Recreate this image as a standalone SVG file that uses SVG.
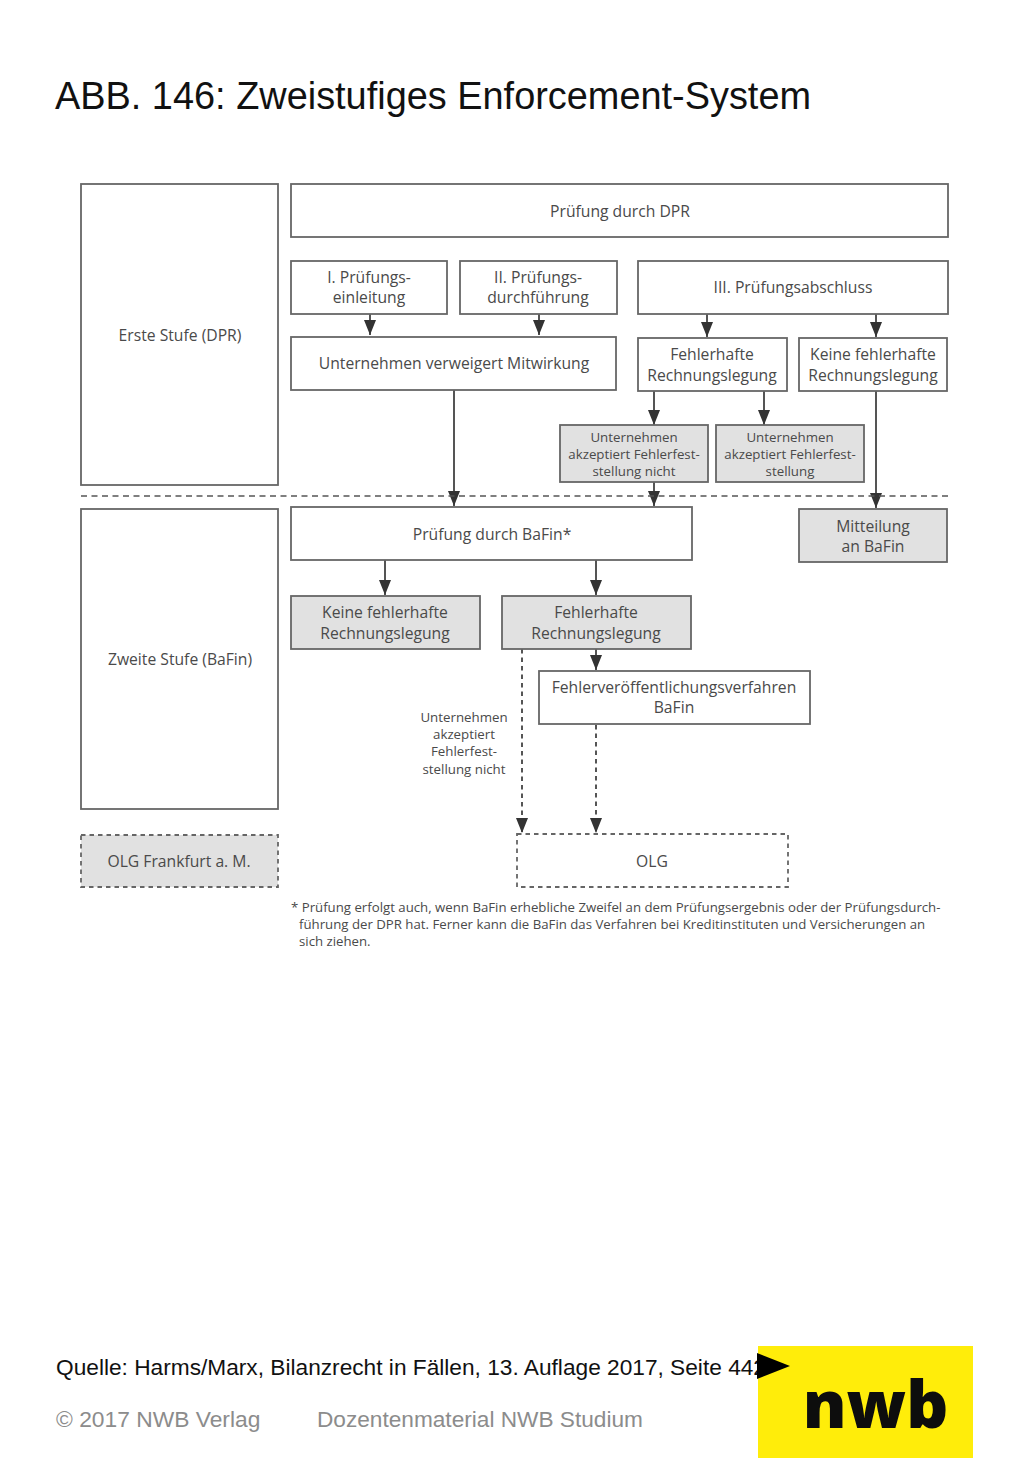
<svg xmlns="http://www.w3.org/2000/svg" width="1024" height="1479" viewBox="0 0 1024 1479">
<defs>
<marker id="ah" markerUnits="userSpaceOnUse" markerWidth="16" markerHeight="13" refX="15" refY="6" orient="auto"><path d="M0,0 L15,6 L0,12 Z" fill="#333"/></marker>
</defs>
<style>
.b{fill:#fff;stroke:#666;stroke-width:1.8}
.g{fill:#e1e1e1;stroke:#666;stroke-width:1.8}
.d{stroke-dasharray:4.5 4}
.t{font-family:"Open Sans","Noto Sans",sans-serif;font-size:15.7px;fill:#4a4a4a;text-anchor:middle}
.s{font-size:13.3px}
.f{font-size:13.22px;text-anchor:start}
.c{fill:none;stroke:#555;stroke-width:2;marker-end:url(#ah)}
.h{font-family:"Liberation Sans",Arial,sans-serif}
</style>
<rect width="1024" height="1479" fill="#fff"/>
<text id="title" class="h" x="55" y="108.5" font-size="37.9" fill="#111">ABB. 146: Zweistufiges Enforcement-System</text>

<g id="connectors">
<path class="c" d="M370,314V335"/>
<path class="c" d="M539,314V335"/>
<path class="c" d="M707,314V337"/>
<path class="c" d="M876,314V337"/>
<path class="c" d="M654,391V425"/>
<path class="c" d="M764,391V425"/>
<path class="c" d="M454,390V506"/>
<path class="c" d="M654,482V506"/>
<path class="c" d="M876,391V508"/>
<path class="c" d="M385,560V595"/>
<path class="c" d="M596,560V595"/>
<path class="c" d="M596,649V670"/>
<path class="c d" d="M522,649V833"/>
<path class="c d" d="M596,725V833"/>
<path id="divider" d="M81,496H951" fill="none" stroke="#555" stroke-width="1.6" stroke-dasharray="6 4.5"/>
</g>

<g id="stufe1"><rect class="b" x="81" y="184" width="197" height="301"/><text class="t" x="180" y="341">Erste Stufe (DPR)</text></g>
<g id="pruefung-dpr"><rect class="b" x="291" y="184" width="657" height="53"/><text class="t" x="620" y="217">Prüfung durch DPR</text></g>
<g id="einleitung"><rect class="b" x="291" y="261" width="156" height="53"/><text class="t" x="369" y="283">I. Prüfungs-</text><text class="t" x="369" y="303">einleitung</text></g>
<g id="durchfuehrung"><rect class="b" x="460" y="261" width="157" height="53"/><text class="t" x="538" y="283">II. Prüfungs-</text><text class="t" x="538" y="303">durchführung</text></g>
<g id="abschluss"><rect class="b" x="638" y="261" width="310" height="53"/><text class="t" x="793" y="293">III. Prüfungsabschluss</text></g>
<g id="verweigert"><rect class="b" x="291" y="337" width="325" height="53"/><text class="t" x="454" y="369">Unternehmen verweigert Mitwirkung</text></g>
<g id="fehlerhaft1"><rect class="b" x="638" y="338" width="149" height="53"/><text class="t" x="712" y="360">Fehlerhafte</text><text class="t" x="712" y="381">Rechnungslegung</text></g>
<g id="keine1"><rect class="b" x="799" y="338" width="148" height="53"/><text class="t" x="873" y="360">Keine fehlerhafte</text><text class="t" x="873" y="381">Rechnungslegung</text></g>
<g id="nicht-akzeptiert"><rect class="g" x="560" y="425" width="148" height="57"/><text class="t s" x="634" y="442">Unternehmen</text><text class="t s" x="634" y="459">akzeptiert Fehlerfest-</text><text class="t s" x="634" y="476">stellung nicht</text></g>
<g id="akzeptiert"><rect class="g" x="716" y="425" width="148" height="57"/><text class="t s" x="790" y="442">Unternehmen</text><text class="t s" x="790" y="459">akzeptiert Fehlerfest-</text><text class="t s" x="790" y="476">stellung</text></g>

<g id="stufe2"><rect class="b" x="81" y="509" width="197" height="300"/><text class="t" x="180" y="665">Zweite Stufe (BaFin)</text></g>
<g id="pruefung-bafin"><rect class="b" x="291" y="507" width="401" height="53"/><text class="t" x="492" y="540">Prüfung durch BaFin*</text></g>
<g id="mitteilung"><rect class="g" x="799" y="509" width="148" height="53"/><text class="t" x="873" y="532">Mitteilung</text><text class="t" x="873" y="552">an BaFin</text></g>
<g id="keine2"><rect class="g" x="291" y="596" width="189" height="53"/><text class="t" x="385" y="618">Keine fehlerhafte</text><text class="t" x="385" y="639">Rechnungslegung</text></g>
<g id="fehlerhaft2"><rect class="g" x="502" y="596" width="189" height="53"/><text class="t" x="596" y="618">Fehlerhafte</text><text class="t" x="596" y="639">Rechnungslegung</text></g>
<g id="veroeffentlichung"><rect class="b" x="539" y="671" width="271" height="53"/><text class="t" x="674" y="693">Fehlerveröffentlichungsverfahren</text><text class="t" x="674" y="713">BaFin</text></g>
<g id="label-nicht"><text class="t s" x="464" y="722">Unternehmen</text><text class="t s" x="464" y="739">akzeptiert</text><text class="t s" x="464" y="756">Fehlerfest-</text><text class="t s" x="464" y="774">stellung nicht</text></g>
<g id="olg-frankfurt"><rect class="g d" x="81" y="835" width="197" height="52"/><text class="t" x="179" y="867">OLG Frankfurt a. M.</text></g>
<g id="olg"><rect class="b d" x="517" y="834" width="271" height="53"/><text class="t" x="652" y="867">OLG</text></g>
<g id="fussnote"><text class="t f" x="291" y="912">* Prüfung erfolgt auch, wenn BaFin erhebliche Zweifel an dem Prüfungsergebnis oder der Prüfungsdurch-</text><text class="t f" x="299" y="929">führung der DPR hat. Ferner kann die BaFin das Verfahren bei Kreditinstituten und Versicherungen an</text><text class="t f" x="299" y="946">sich ziehen.</text></g>

<text id="copyright" class="h" x="56" y="1427" font-size="22.8" fill="#8c8c8c">© 2017 NWB Verlag</text>
<text id="dozent" class="h" x="317" y="1427" font-size="22.65" fill="#8c8c8c">Dozentenmaterial NWB Studium</text>
<g id="logo"><rect x="758" y="1346" width="215" height="112" fill="#ffed0a"/><text x="875.5" y="1428" font-family="'Open Sans','Noto Sans',sans-serif" font-weight="800" font-size="65.5" fill="#0d0d0d" text-anchor="middle">nwb</text></g>
<text id="quelle" class="h" x="56" y="1375" font-size="22.7" fill="#111">Quelle: Harms/Marx, Bilanzrecht in Fällen, 13. Auflage 2017, Seite 442</text>
<path id="pfeil" d="M757,1353L790,1366L757,1379Z" fill="#000"/>
</svg>
